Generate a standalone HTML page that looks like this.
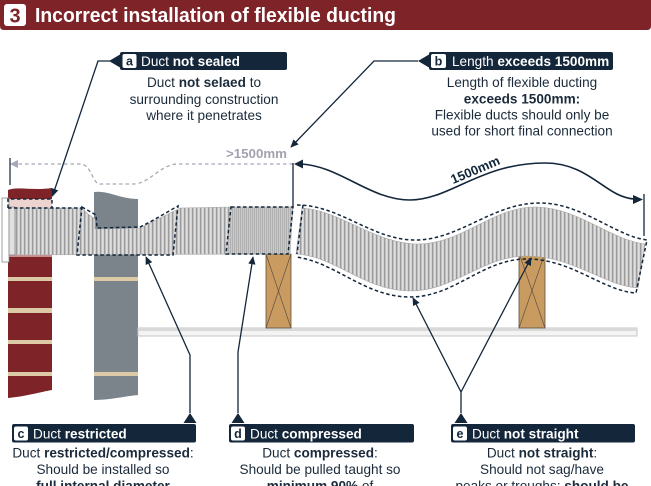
<!DOCTYPE html>
<html><head><meta charset="utf-8"><style>
html,body{margin:0;padding:0;background:#fff;}
svg{display:block;font-family:"Liberation Sans",Arial,sans-serif;}
</style></head><body>
<svg width="651" height="486" viewBox="0 0 651 486" xmlns="http://www.w3.org/2000/svg">
<defs>
<pattern id="rib" patternUnits="userSpaceOnUse" width="4" height="4">
<rect width="4" height="4" fill="#cdcdcd"/><rect x="0" width="1.3" height="4" fill="#9b9b9b"/><rect x="2.2" width="1" height="4" fill="#e4e4e4"/>
</pattern>
<pattern id="ribc" patternUnits="userSpaceOnUse" width="2" height="4">
<rect width="2" height="4" fill="#c9c9c9"/><rect x="0" width="0.8" height="4" fill="#ababab"/>
</pattern>
<marker id="ah" viewBox="0 0 10 10" refX="9" refY="5" markerWidth="9" markerHeight="8" markerUnits="userSpaceOnUse" orient="auto"><path d="M0,0.5 L10,5 L0,9.5 Z" fill="#13263a"/></marker>
</defs>

<!-- header -->
<path d="M0,0 H651 V26 Q651,30 647,30 H4 Q0,30 0,26 Z" fill="#7e2328"/>
<rect x="4" y="4" width="22" height="22" rx="3" fill="#fff"/>
<text x="15" y="22.5" text-anchor="middle" font-size="20" font-weight="bold" fill="#7e2328">3</text>
<text x="35" y="22" font-size="20" font-weight="bold" fill="#fff" textLength="361" lengthAdjust="spacingAndGlyphs">Incorrect installation of flexible ducting</text>

<!-- brick wall -->
<path d="M8,190 C18,186 32,191 52,188 L52,199 L8,199 Z" fill="#7e2328"/>
<rect x="8" y="199" width="44" height="9" fill="#ecd3cf"/>
<path d="M8,255 H52 V390 C40,392 28,396 8,398 Z" fill="#7e2328"/>
<rect x="8" y="255" width="44" height="2" fill="#c98f8f"/>
<rect x="8" y="277" width="44" height="4" fill="#dcc9a6"/>
<rect x="8" y="308" width="44" height="5" fill="#dcc9a6"/>
<rect x="8" y="340" width="44" height="4" fill="#dcc9a6"/>
<rect x="8" y="372" width="44" height="4" fill="#dcc9a6"/>

<!-- grey wall -->
<path d="M94,192 C108,190 120,199 138,199 V395 C126,396 110,400 94,400 Z" fill="#7b848b"/>
<rect x="94" y="277" width="44" height="4" fill="#dcc9a6"/>
<rect x="94" y="372" width="44" height="4" fill="#dcc9a6"/>

<!-- ceiling -->
<rect x="138" y="328" width="499" height="8" fill="#f4f4f4" stroke="#c6c6c6" stroke-width="1"/>
<rect x="138" y="328" width="499" height="3" fill="#d9d9d9"/>

<!-- joists -->
<rect x="266" y="254" width="25" height="74" fill="#c99b60" stroke="#5e5040" stroke-width="0.8"/>
<path d="M266,254 L291,328 M291,254 L266,328" stroke="#5e5040" stroke-width="0.7"/>
<rect x="519" y="253" width="26" height="75" fill="#c99b60" stroke="#5e5040" stroke-width="0.8"/>
<path d="M519,253 L545,328 M545,253 L519,328" stroke="#5e5040" stroke-width="0.7"/>

<!-- straight duct with restriction -->
<path d="M8,208 L82,208 L88,214 L95,219 L95,229 L140,228 L148,224 L172,212 L180,208 L230,207 L293,207 L290,254 L8,255 Z" fill="url(#rib)" stroke="#a8a8a8" stroke-width="0.6"/>
<path d="M231,207 L293,207 L289,254 L227,254 Z" fill="url(#ribc)"/>

<!-- curved duct -->
<path d="M302,208 C340,210 375,244 418,244 C462,244 492,207 535,207 C578,207 610,240 645,244 L638,288 C605,286 572,256 527,256 C482,256 455,291 410,291 C365,291 335,256 296,254 Z" fill="url(#rib)" stroke="#a8a8a8" stroke-width="0.6"/>

<!-- collar -->
<rect x="2" y="198" width="7" height="64" fill="#fff" stroke="#8a8a8a" stroke-width="0.8"/>
<rect x="9" y="207" width="6" height="48" fill="#e0e0e0" stroke="#8a8a8a" stroke-width="0.8"/>

<!-- dashed outlines -->
<g fill="none" stroke="#13263a" stroke-width="1.5" stroke-dasharray="3.5,2.5">
<path d="M8,208 L8,199 L52,199 L52,208"/>
<path d="M8,208 L82,208"/>
<path d="M82,207 L89,211 L96,215 L97,228 L140,227 L150,222 L178,206 L173,255 L77,255 Z"/>
<path d="M231,207 L293,207 L288,254 L226,254 Z"/>
<path d="M303,205 L297,254"/>
<path d="M297,205 C340,205 372,240 415,240 C460,240 492,203 540,203 C582,203 615,236 647,240 L636,293 C603,291 572,259 527,259 C482,259 455,297 410,297 C365,297 335,262 296,257"/>
</g>

<!-- >1500mm grey dimension -->
<path d="M293,164 L178,164 C160,164 150,184 133,184 L100,184 C92,184 92,164 80,164 L17,164" fill="none" stroke="#a7a7b6" stroke-width="1.3" stroke-dasharray="3.5,3"/>
<path d="M10,164 L18,160 L18,168 Z" fill="#a7a7b6"/>
<line x1="10" y1="158" x2="10" y2="185" stroke="#13263a" stroke-width="1.2"/>
<text x="226" y="158" font-size="13" font-weight="bold" fill="#a2a2b0" textLength="61" lengthAdjust="spacingAndGlyphs">&gt;1500mm</text>

<!-- 1500mm dimension -->
<line x1="293" y1="163" x2="293" y2="207" stroke="#13263a" stroke-width="1.3"/>
<line x1="644" y1="194" x2="644" y2="236" stroke="#13263a" stroke-width="1.3"/>
<path d="M301,164 C340,166 370,200 410,200 C450,200 480,163 545,163 C590,163 605,197 634,199" fill="none" stroke="#13263a" stroke-width="1.6"/>
<path d="M294,164 L303,159.5 L303,168.5 Z" fill="#13263a"/>
<path d="M643,199.5 L633,195 L633,204 Z" fill="#13263a"/>
<text x="477" y="174" font-size="13" font-weight="bold" fill="#13263a" text-anchor="middle" transform="rotate(-23 477 174)">1500mm</text>

<!-- leaders -->
<g fill="none" stroke="#13263a" stroke-width="1.3">
<path d="M110,61 L98,61 L52.5,196" marker-end="url(#ah)"/>
<path d="M418,61 L374,61 L291,147" marker-end="url(#ah)"/>
<path d="M190,413 L190,355 L146,257" marker-end="url(#ah)"/>
<path d="M238,413 L238,352 L253,257" marker-end="url(#ah)"/>
<path d="M461,413 L461,392 L413,298" marker-end="url(#ah)"/>
<path d="M461,392 L531,258" marker-end="url(#ah)"/>
</g>

<!-- label a -->
<path d="M109,61 L120,54.5 L120,67.5 Z" fill="#13263a"/>
<rect x="120" y="52" width="167" height="18" rx="2" fill="#13263a"/>
<rect x="122.5" y="54" width="14" height="14" rx="2" fill="#fff"/>
<text x="129.5" y="65.5" text-anchor="middle" font-size="12.5" font-weight="bold" fill="#13263a">a</text>
<text x="141" y="66" font-size="13.6" fill="#fff">Duct <tspan font-weight="bold">not sealed</tspan></text>
<g font-size="13.6" fill="#1b2a3a" text-anchor="middle">
<text x="204" y="87">Duct <tspan font-weight="bold">not selaed</tspan> to</text>
<text x="204" y="104">surrounding construction</text>
<text x="204" y="120">where it penetrates</text>
</g>

<!-- label b -->
<path d="M418,61 L429,54.5 L429,67.5 Z" fill="#13263a"/>
<rect x="429" y="52" width="184" height="18" rx="2" fill="#13263a"/>
<rect x="431" y="54" width="15" height="14" rx="2" fill="#fff"/>
<text x="438.5" y="65.5" text-anchor="middle" font-size="12.5" font-weight="bold" fill="#13263a">b</text>
<text x="452" y="66" font-size="13.6" fill="#fff">Length <tspan font-weight="bold">exceeds 1500mm</tspan></text>
<g font-size="13.6" fill="#1b2a3a" text-anchor="middle">
<text x="522" y="87">Length of flexible ducting</text>
<text x="522" y="103.5" font-weight="bold">exceeds 1500mm:</text>
<text x="522" y="119.5">Flexible ducts should only be</text>
<text x="522" y="135.5">used for short final connection</text>
</g>

<!-- label c -->
<path d="M190,413 L196.5,423 L183.5,423 Z" fill="#13263a"/>
<rect x="12" y="424" width="184" height="18.5" rx="2" fill="#13263a"/>
<rect x="14" y="426.5" width="14" height="14" rx="2" fill="#fff"/>
<text x="21" y="438" text-anchor="middle" font-size="12.5" font-weight="bold" fill="#13263a">c</text>
<text x="33" y="438.5" font-size="13.6" fill="#fff">Duct <tspan font-weight="bold">restricted</tspan></text>
<g font-size="13.6" fill="#1b2a3a" text-anchor="middle">
<text x="103" y="457.5">Duct <tspan font-weight="bold">restricted/compressed</tspan>:</text>
<text x="103" y="474">Should be installed so</text>
<text x="103" y="490.5" font-weight="bold">full internal diameter</text>
</g>

<!-- label d -->
<path d="M238,413 L244.5,423 L231.5,423 Z" fill="#13263a"/>
<rect x="229" y="424" width="185" height="18.5" rx="2" fill="#13263a"/>
<rect x="231" y="426.5" width="14" height="14" rx="2" fill="#fff"/>
<text x="238" y="438" text-anchor="middle" font-size="12.5" font-weight="bold" fill="#13263a">d</text>
<text x="250" y="438.5" font-size="13.6" fill="#fff">Duct <tspan font-weight="bold">compressed</tspan></text>
<g font-size="13.6" fill="#1b2a3a" text-anchor="middle">
<text x="320" y="457.5">Duct <tspan font-weight="bold">compressed</tspan>:</text>
<text x="320" y="474">Should be pulled taught so</text>
<text x="320" y="490.5"><tspan font-weight="bold">minimum 90%</tspan> of</text>
</g>

<!-- label e -->
<path d="M461,413 L467.5,423 L454.5,423 Z" fill="#13263a"/>
<rect x="451" y="424" width="184" height="18.5" rx="2" fill="#13263a"/>
<rect x="453" y="426.5" width="14" height="14" rx="2" fill="#fff"/>
<text x="460" y="438" text-anchor="middle" font-size="12.5" font-weight="bold" fill="#13263a">e</text>
<text x="472" y="438.5" font-size="13.6" fill="#fff">Duct <tspan font-weight="bold">not straight</tspan></text>
<g font-size="13.6" fill="#1b2a3a" text-anchor="middle">
<text x="542" y="457.5">Duct <tspan font-weight="bold">not straight</tspan>:</text>
<text x="542" y="474">Should not sag/have</text>
<text x="542" y="490.5">peaks or troughs; <tspan font-weight="bold">should be</tspan></text>
</g>
</svg>
</body></html>
